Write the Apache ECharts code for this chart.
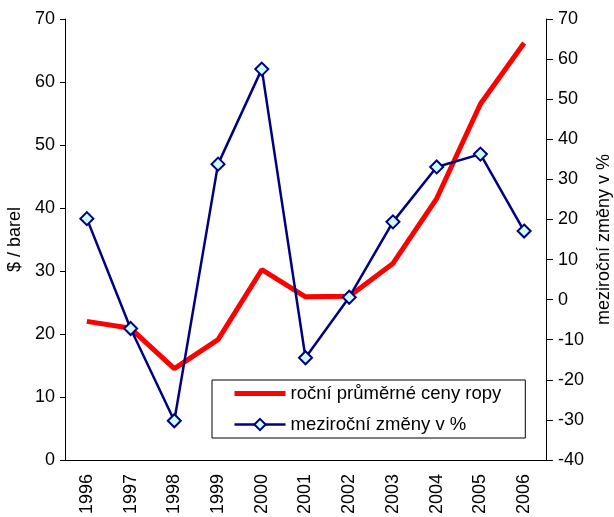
<!DOCTYPE html>
<html>
<head>
<meta charset="utf-8">
<script src="https://cdn.jsdelivr.net/npm/echarts@6/dist/echarts.min.js"></script>
<style>
  html, body { margin: 0; padding: 0; background: #fff; }
  #chart { width: 614px; height: 517px; }
</style>
</head>
<body>
<div id="chart"></div>
<script>
const years = ['1996', '1997', '1998', '1999', '2000', '2001', '2002', '2003', '2004', '2005', '2006']
// $ / barel
const oilPrice = [22.0, 20.9, 14.5, 19.1, 30.2, 25.9, 26.0, 31.2, 41.5, 56.5, 66.2]
// meziroční změny v %
const yoyChange = [20.2, -7.2, -30.2, 33.8, 57.5, -14.5, 0.6, 19.4, 33.1, 36.3, 17.1]

const font = 'Liberation Sans, Arial, sans-serif'
const black = '#000'

const chart = echarts.init(document.getElementById('chart'))

chart.setOption({
  animation: false,
  textStyle: { fontFamily: font, color: black },
  grid: { left: 65, right: 68, top: 19, bottom: 57, containLabel: false, outerBoundsMode: 'none' },
  legend: {
    orient: 'vertical',
    left: 212,
    top: 380,
    padding: [4, 24, 4, 20],
    itemGap: 12,
    itemWidth: 51,
    itemHeight: 14,
    borderColor: black,
    borderWidth: 1,
    backgroundColor: '#fff',
    textStyle: { fontFamily: font, fontSize: 18.5, color: black },
    data: [
      { name: 'roční průměrné ceny ropy', itemStyle: { opacity: 0 }, lineStyle: { width: 5, color: '#ff0000' } },
      { name: 'meziroční změny v %', lineStyle: { width: 2.5, color: '#000080' } }
    ]
  },
  xAxis: {
    type: 'category',
    data: years,
    boundaryGap: true,
    axisLine: { lineStyle: { color: black, width: 1 } },
    axisTick: { length: 5, lineStyle: { color: black } },
    axisLabel: { rotate: 90, margin: 14, fontSize: 18, color: black, fontFamily: font }
  },
  yAxis: [
    {
      type: 'value',
      min: 0,
      max: 70,
      interval: 10,
      name: '$ / barel',
      nameLocation: 'middle',
      nameRotate: 90,
      nameGap: 36,
      nameTextStyle: { fontSize: 18, color: black, fontFamily: font },
      splitLine: { show: false },
      axisLine: { show: true, lineStyle: { color: black, width: 1 } },
      axisTick: { show: true, length: 5, lineStyle: { color: black } },
      axisLabel: { margin: 10, fontSize: 18, color: black, fontFamily: font }
    },
    {
      type: 'value',
      position: 'right',
      min: -40,
      max: 70,
      interval: 10,
      name: 'meziroční změny v %',
      nameLocation: 'middle',
      nameRotate: 90,
      nameGap: 48,
      nameTextStyle: { fontSize: 18, color: black, fontFamily: font },
      splitLine: { show: false },
      axisLine: { show: true, lineStyle: { color: black, width: 1 } },
      axisTick: { show: true, length: 7, lineStyle: { color: black } },
      axisLabel: { margin: 12, fontSize: 18, color: black, fontFamily: font }
    }
  ],
  series: [
    {
      name: 'roční průměrné ceny ropy',
      type: 'line',
      yAxisIndex: 0,
      data: oilPrice,
      symbol: 'none',
      lineStyle: { color: '#ff0000', width: 5 },
      itemStyle: { color: '#ff0000' }
    },
    {
      name: 'meziroční změny v %',
      type: 'line',
      yAxisIndex: 1,
      data: yoyChange,
      symbol: 'diamond',
      symbolSize: 13,
      showAllSymbol: true,
      lineStyle: { color: '#000080', width: 2.5 },
      itemStyle: { color: '#ccffff', borderColor: '#000080', borderWidth: 2 }
    }
  ]
})
</script>
</body>
</html>
